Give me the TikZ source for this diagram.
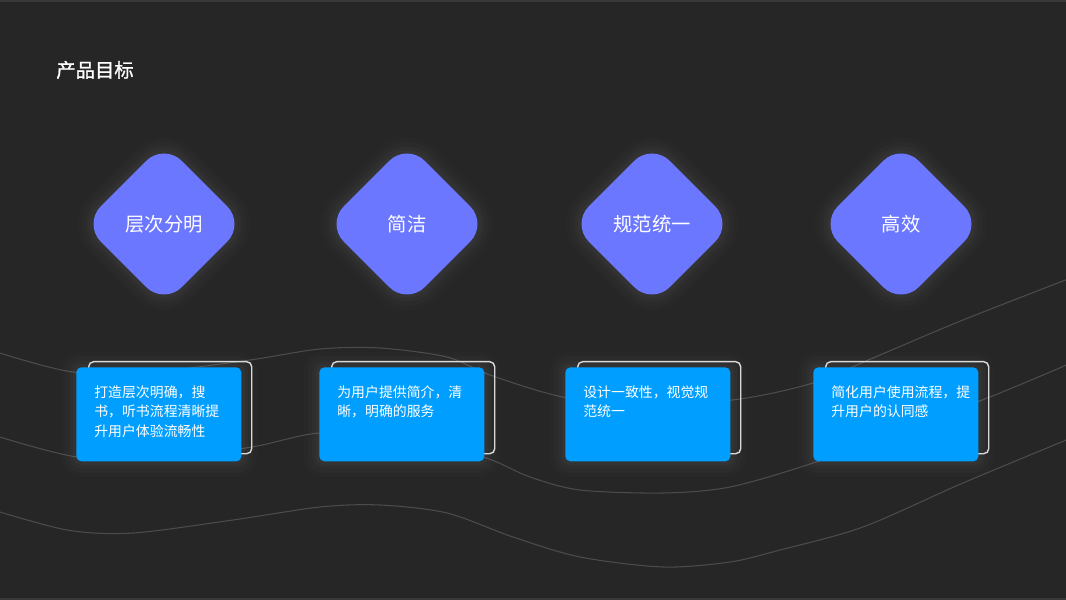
\documentclass[tikz,border=0pt]{standalone}
\usepackage{fontspec}
\setmainfont{Noto Sans CJK SC}
\newfontfamily\titlefont{Noto Sans CJK SC}[FakeBold=1.2]
\usetikzlibrary{shapes.geometric}

\definecolor{slidebg}{HTML}{262626}
\definecolor{goalviolet}{HTML}{6B77FF}
\definecolor{cardblue}{HTML}{009FFF}
\definecolor{wavegray}{HTML}{4C4C4C}

\begin{document}
\begin{tikzpicture}[
  x=0.2mm,y=-0.2mm,
  halo/.style={preaction={draw=white,draw opacity=.012,line width=18pt},
               preaction={draw=white,draw opacity=.015,line width=13pt},
               preaction={draw=white,draw opacity=.02,line width=8pt},
               preaction={draw=white,draw opacity=.025,line width=4pt}},
  goal/.style={diamond,aspect=1,inner sep=0pt,minimum size=32.4mm,rounded corners=5mm,
               fill=goalviolet,text=white,font=\fontsize{11}{13}\selectfont,halo},
  card/.style={anchor=north west,rounded corners=1mm,minimum width=33mm,minimum height=18.8mm,
               inner sep=0pt,fill=cardblue,halo},
  cardedge/.style={anchor=north west,draw=white!85!black,line width=.8pt,rounded corners=1mm,
               minimum width=32.6mm,minimum height=18.4mm,inner sep=0pt},
  note/.style={anchor=north west,inner sep=0pt,align=left,text=white,
               font=\fontsize{7.9}{11.3}\selectfont},
  wave/.style={draw=wavegray,line width=.6pt}
]
  \useasboundingbox (0,0) rectangle (1066,600);
  \fill[slidebg] (0,0) rectangle (1066,600);
  \draw[white!22!black,line width=.6pt] (0,1) -- (1066,1) (0,599) -- (1066,599);

  % background waves
  \draw[wave] plot[smooth] coordinates {(-10,350) (73,372) (160,371) (250,360) (320,349) (380,348)
    (447,357) (490,375) (563,397) (650,406) (740,399) (813,383) (873,358) (963,320) (1076,276)};
  \draw[wave] plot[smooth] coordinates {(-10,434) (77,457) (165,458) (252,447) (320,433) (400,438)
    (483,457) (530,477) (580,490) (663,493) (730,487) (813,463) (900,430) (990,397) (1076,361)};
  \draw[wave] plot[smooth] coordinates {(-10,509) (67,530) (133,533) (233,520) (320,507) (380,505)
    (447,513) (513,537) (580,557) (663,567) (730,562) (780,550) (863,527) (963,483) (1076,436)};

  \node[anchor=west,inner sep=0pt,text=white,font=\titlefont\fontsize{11}{13}\selectfont] (title) at (56,70) {产品目标};

  % goals
  \node[goal] (layered) at (164,224) {层次分明};
  \node[goal] (concise) at (407,224) {简洁};
  \node[goal] (unified) at (652,224) {规范统一};
  \node[goal] (efficient) at (901,224) {高效};

  % cards
  \node[cardedge] (layerededge) at (88,361) {};
  \node[cardedge] (conciseedge) at (331,361) {};
  \node[cardedge] (unifiededge) at (577,361) {};
  \node[cardedge] (efficientedge) at (825,361) {};

  \node[card] (layeredcard) at (76,367) {};
  \node[card] (concisecard) at (319,367) {};
  \node[card] (unifiedcard) at (565,367) {};
  \node[card] (efficientcard) at (813,367) {};

  \node[note] at ([shift={(18,18)}]layeredcard.north west) {打造层次明确，搜\\书，听书流程清晰提\\升用户体验流畅性};
  \node[note] at ([shift={(18,18)}]concisecard.north west) {为用户提供简介，清\\晰，明确的服务};
  \node[note] at ([shift={(18,18)}]unifiedcard.north west) {设计一致性，视觉规\\范统一};
  \node[note] at ([shift={(18,18)}]efficientcard.north west) {简化用户使用流程，提\\升用户的认同感};
\end{tikzpicture}
\end{document}
